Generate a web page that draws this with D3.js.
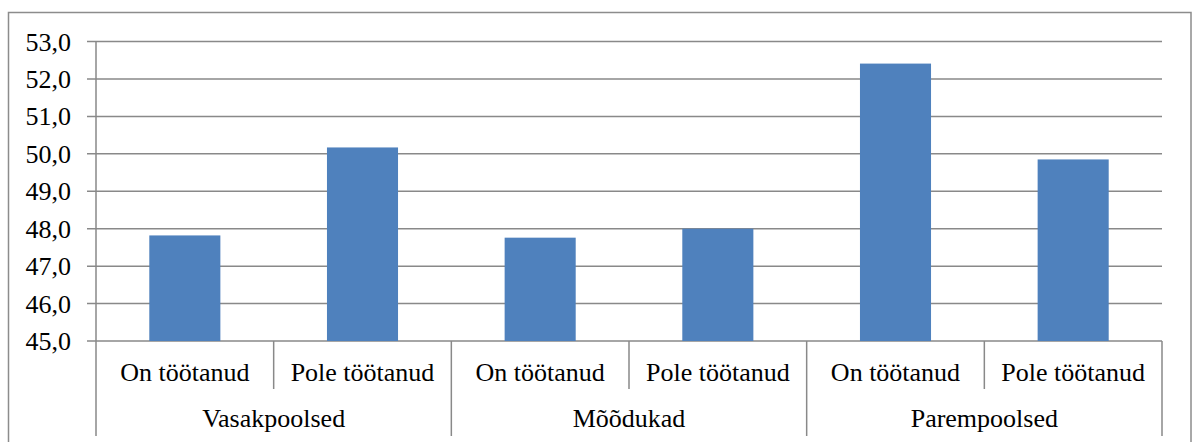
<!DOCTYPE html>
<html><head><meta charset="utf-8">
<script src="https://cdn.jsdelivr.net/npm/d3@7"></script>
</head><body style="margin:0;background:#fff">
<svg id="c" width="1197" height="442" style="display:block;font-family:'Liberation Serif',serif"></svg>
<script>
const groups = ["Vasakpoolsed", "Mõõdukad", "Parempoolsed"];
const subcats = ["On töötanud", "Pole töötanud"];
const values = [47.82, 50.17, 47.76, 48.0, 52.41, 49.85];
const yTicks = [45, 46, 47, 48, 49, 50, 51, 52, 53];

const svg = d3.select("#c");
const pL = 96, pR = 1162, pT = 41.5, pB = 341;
const fontSize = "26px";
const fontFam = "Liberation Serif";
const grid = "#898989";

// outer border
svg.append("rect").attr("x", 8.5).attr("y", 12.5).attr("width", 1182.5).attr("height", 450)
  .attr("fill", "none").attr("stroke", "#8c8c8c").attr("stroke-width", 1.5);

const rows = [];
groups.forEach((g, gi) => subcats.forEach((s, si) => rows.push({g: g, s: s, key: gi + "-" + si, v: values[gi * 2 + si]})));

const x = d3.scaleBand().domain(rows.map(r => r.key)).range([pL, pR]).paddingInner(0.6).paddingOuter(0.3);
const xStep = d3.scaleBand().domain(rows.map(r => r.key)).range([pL, pR]);
const y = d3.scaleLinear().domain([45, 53]).range([pB, pT]);

// gridlines
svg.append("g").selectAll("line").data(yTicks).join("line")
  .attr("x1", pL - 9).attr("x2", pR).attr("y1", d => y(d)).attr("y2", d => y(d))
  .attr("stroke", grid).attr("stroke-width", 1.5);

// y axis via d3
const yAxis = d3.axisLeft(y).tickValues(yTicks).tickSize(0).tickPadding(25)
  .tickFormat(d => d3.format(".1f")(d).replace(".", ","));
const ya = svg.append("g").attr("transform", "translate(" + pL + ",0)").call(yAxis);
ya.attr("font-family", null).attr("font-size", null);
ya.select(".domain").remove();
ya.selectAll("text").style("font-size", fontSize).style("font-family", fontFam).attr("fill", "#000").attr("dy", "0.33em");

// bars
svg.append("g").selectAll("rect").data(rows).join("rect")
  .attr("x", d => x(d.key)).attr("width", x.bandwidth())
  .attr("y", d => y(d.v)).attr("height", d => y(45) - y(d.v))
  .attr("fill", "#4F81BD");

// axis lines
svg.append("line").attr("x1", pL).attr("x2", pL).attr("y1", pT).attr("y2", 436).attr("stroke", grid).attr("stroke-width", 1.5);

// category separators
const sepKeys = rows.map((r, i) => i).slice(1);
svg.append("g").selectAll("line").data(sepKeys).join("line")
  .attr("x1", i => xStep(rows[i].key)).attr("x2", i => xStep(rows[i].key))
  .attr("y1", pB).attr("y2", i => i % 2 === 0 ? 436 : 389)
  .attr("stroke", grid).attr("stroke-width", 1.5);
svg.append("line").attr("x1", pR).attr("x2", pR).attr("y1", pB).attr("y2", 436).attr("stroke", grid).attr("stroke-width", 1.5);

// subcategory labels
svg.append("g").selectAll("text").data(rows).join("text")
  .attr("x", d => xStep(d.key) + xStep.bandwidth() / 2).attr("y", 381)
  .attr("text-anchor", "middle").style("font-size", fontSize).style("font-family", fontFam).attr("fill", "#000").text(d => d.s);

// group labels
svg.append("g").selectAll("text").data(groups).join("text")
  .attr("x", (g, gi) => xStep(gi + "-0") + xStep.bandwidth()).attr("y", 427)
  .attr("text-anchor", "middle").style("font-size", fontSize).style("font-family", fontFam).attr("fill", "#000").text(d => d);
</script>
</body></html>
